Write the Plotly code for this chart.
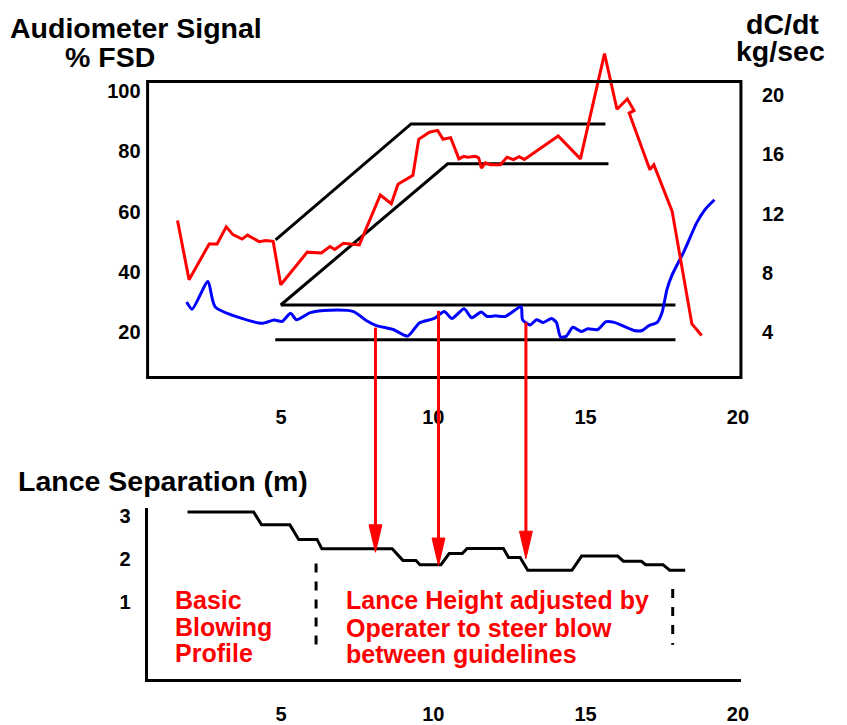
import plotly.graph_objects as go

# ---------------- data ----------------
# dC/dt (kg/sec) - red, right axis
red_t = [1.60, 1.98, 2.64, 2.90, 3.20, 3.42, 3.72, 3.90, 4.28, 4.50, 4.74, 4.99, 5.86, 6.32,
         6.61, 6.76, 7.05, 7.30, 7.57, 8.26, 8.62, 8.84, 9.33, 9.52, 9.87, 10.14, 10.32, 10.57,
         10.84, 11.00, 11.12, 11.39, 11.49, 11.58, 11.71, 11.87, 12.20, 12.42, 12.63, 12.82,
         12.99, 14.10, 14.83, 15.62, 16.03, 16.37, 16.59, 16.43, 17.11, 17.24, 17.84, 18.49, 18.81]
red_v = [11.54, 7.53, 9.95, 9.95, 11.11, 10.58, 10.28, 10.55, 10.11, 10.18, 10.13, 7.20, 9.40, 9.34,
         9.78, 9.58, 10.00, 9.95, 9.89, 13.26, 12.67, 13.99, 14.59, 17.02, 17.50, 17.62, 17.02, 17.13,
         15.70, 15.87, 15.81, 15.87, 15.76, 15.08, 15.43, 15.30, 15.30, 15.81, 15.65, 15.85,
         15.65, 17.24, 15.70, 22.80, 19.05, 19.74, 18.96, 18.79, 14.97, 15.30, 12.17, 4.55, 3.77]

# Audiometer signal (% FSD) - blue, left axis
blue_t = [1.90, 2.08, 2.60, 2.84, 4.36, 4.77, 5.04, 5.31, 5.51, 5.96, 6.61, 7.38, 7.81, 8.13,
          8.68, 9.16, 9.54, 10.03, 10.36, 10.61, 11.01, 11.26, 11.57, 11.77, 12.04, 12.36, 12.88,
          12.93, 13.18, 13.39, 13.61, 13.88, 14.04, 14.18, 14.37, 14.58, 14.86, 15.07, 15.40,
          15.67, 15.94, 16.59, 16.86, 17.08, 17.35, 17.51, 17.67, 17.84, 18.22, 18.65, 18.92, 19.23]
blue_v = [29.98, 27.61, 36.81, 28.36, 22.93, 24.03, 23.58, 26.31, 24.13, 26.50, 27.28, 26.83, 23.80, 22.18,
          20.88, 18.70, 23.06, 24.55, 26.83, 24.55, 27.80, 24.78, 26.73, 25.20, 25.43, 25.20, 28.46,
          24.13, 22.41, 24.13, 23.25, 24.55, 23.25, 18.37, 18.70, 21.63, 20.23, 21.11, 20.88,
          23.48, 23.25, 20.55, 20.55, 22.18, 23.25, 26.50, 34.11, 38.99, 46.57, 56.33, 60.65, 63.90]

# Lance separation (m)
lance_t = [1.93, 4.10, 4.36, 5.29, 5.58, 6.18, 6.34, 8.65, 9.00, 9.43, 9.56, 10.25, 10.52, 10.95,
           11.11, 12.30, 12.47, 12.85, 13.10, 14.55, 14.87, 16.05, 16.24, 16.83, 16.97, 17.54, 17.76, 18.27]
lance_v = [3.10, 3.10, 2.80, 2.80, 2.46, 2.46, 2.24, 2.24, 1.97, 1.97, 1.87, 1.87, 2.13, 2.13,
           2.25, 2.25, 2.04, 2.04, 1.74, 1.74, 2.07, 2.07, 1.95, 1.95, 1.87, 1.87, 1.74, 1.74]

# Guidelines (basic blowing profile)
guide_hi_t = [4.82, 9.27, 15.65]
guide_hi_v = [10.22, 18.06, 18.06]     # dC/dt
guide_lo_t = [4.99, 10.47, 15.75]
guide_lo_v = [5.83, 15.36, 15.36]      # dC/dt
band_hi_t = [4.99, 17.95]
band_hi_v = [29.0, 29.0]               # % FSD
band_lo_t = [4.81, 17.95]
band_lo_v = [17.5, 17.5]               # % FSD

# Arrows: time, audiometer value at start, lance value at tip
arrow_t = [8.10, 10.17, 13.04]
arrow_from = [21.5, 27.06, 23.25]
arrow_to = [2.16, 1.85, 2.01]

# Dashed separators in lower chart (time, top value in m)
dash_t = [6.15, 17.86]
dash_top = [1.90, 1.30]
dash_bot = 0.0

x_ticks = [5, 10, 15, 20]
left_ticks = [20, 40, 60, 80, 100]
right_ticks = [4, 8, 12, 16, 20]
lance_ticks = [1, 2, 3]

# ---------------- layout geometry ----------------
W, H = 847, 725
FONT = "Liberation Sans"
xr = [0.618, 20.10]
xdom = [149 / W, 748 / W]
top_dom = [1 - 383 / H, 1 - 45 / H]
y1r = [4.94, 114.86]
y2r = [0.927, 23.31]
bot_dom = [1 - 690.7 / H, 1 - 515.7 / H]
y3r = [-0.81, 3.20]


def py_top(v):
    return top_dom[0] + (v - y1r[0]) / (y1r[1] - y1r[0]) * (top_dom[1] - top_dom[0])


def py_bot(v):
    return bot_dom[0] + (v - y3r[0]) / (y3r[1] - y3r[0]) * (bot_dom[1] - bot_dom[0])


fig = go.Figure()

lw = 3
for tx, vy in [(guide_hi_t, guide_hi_v), (guide_lo_t, guide_lo_v)]:
    fig.add_trace(go.Scatter(x=tx, y=vy, mode="lines", line=dict(color="black", width=lw),
                             xaxis="x", yaxis="y2", hoverinfo="skip", showlegend=False))
for tx, vy in [(band_hi_t, band_hi_v), (band_lo_t, band_lo_v)]:
    fig.add_trace(go.Scatter(x=tx, y=vy, mode="lines", line=dict(color="black", width=lw),
                             xaxis="x", yaxis="y", hoverinfo="skip", showlegend=False))

fig.add_trace(go.Scatter(x=blue_t, y=blue_v, mode="lines",
                         line=dict(color="#0000ff", width=lw, shape="spline", smoothing=0.6),
                         xaxis="x", yaxis="y", showlegend=False))
fig.add_trace(go.Scatter(x=red_t, y=red_v, mode="lines", line=dict(color="#ff0000", width=lw),
                         xaxis="x", yaxis="y2", showlegend=False))
fig.add_trace(go.Scatter(x=lance_t, y=lance_v, mode="lines", line=dict(color="black", width=lw),
                         xaxis="x2", yaxis="y3", showlegend=False))

shapes = []
# frame of the upper chart
shapes.append(dict(type="rect", xref="paper", yref="paper", x0=xdom[0], x1=xdom[1],
                   y0=top_dom[0], y1=1 - 81 / H, line=dict(color="black", width=3),
                   layer="above"))
# arrows
hw = 6.5 / ((xdom[1] - xdom[0]) * W / (xr[1] - xr[0]))
head = 28 / H
for t, a, b in zip(arrow_t, arrow_from, arrow_to):
    y0 = py_top(a)
    y1 = py_bot(b)
    shapes.append(dict(type="line", xref="x", yref="paper", x0=t, x1=t, y0=y0, y1=y1 + head * 0.8,
                       line=dict(color="#ff0000", width=3), layer="above"))
    shapes.append(dict(type="path", xref="x", yref="paper",
                       path=f"M {t - hw},{y1 + head} L {t + hw},{y1 + head} L {t},{y1} Z",
                       fillcolor="#ff0000", line=dict(color="#ff0000", width=1), layer="above"))
for t, top in zip(dash_t, dash_top):
    shapes.append(dict(type="line", xref="x2", yref="y3", x0=t, x1=t, y0=top, y1=dash_bot,
                       line=dict(color="black", width=3, dash="dash")))

ann = []


def text(s, x, y, size, color="black", xanchor="center"):
    ann.append(dict(text=s, x=x / W, y=1 - y / H, xref="paper", yref="paper", showarrow=False,
                    xanchor=xanchor, yanchor="middle", borderpad=0,
                    font=dict(family=FONT, size=size, color=color, weight="bold")))


text("Audiometer Signal", 137, 27, 28.5)
text("% FSD", 111, 56, 28.5)
text("dC/dt", 790, 22, 28.5)
text("kg/sec", 788, 50, 28.5)
text("Lance Separation (m)", 17, 488, 28.5, xanchor="left")
text("Basic", 176, 610, 25, "#ff0000", "left")
text("Blowing", 176, 637, 25, "#ff0000", "left")
text("Profile", 176, 664, 25, "#ff0000", "left")
text("Lance Height adjusted by", 348, 610, 25, "#ff0000", "left")
text("Operater to steer blow", 348, 638, 25, "#ff0000", "left")
text("between guidelines", 348, 665, 25, "#ff0000", "left")

tickfont = dict(family=FONT, size=20, color="black", weight="bold")
fig.update_layout(
    width=W, height=H, margin=dict(l=0, r=0, t=0, b=0),
    paper_bgcolor="white", plot_bgcolor="rgba(0,0,0,0)",
    showlegend=False,
    xaxis=dict(domain=xdom, range=xr, anchor="y", tickvals=x_ticks, ticks="", showline=False,
               showgrid=False, zeroline=False, tickfont=tickfont, ticklabelstandoff=25),
    yaxis=dict(domain=top_dom, range=y1r, anchor="x", tickvals=left_ticks, ticks="", showgrid=False,
               zeroline=False, showline=False, tickfont=tickfont, ticklabelstandoff=6),
    yaxis2=dict(range=y2r, overlaying="y", side="right", anchor="x", tickvals=right_ticks, ticks="",
                showgrid=False, zeroline=False, showline=False, tickfont=tickfont,
                ticklabelstandoff=20),
    xaxis2=dict(domain=xdom, range=xr, anchor="y3", tickvals=x_ticks, ticks="", showline=True,
                linecolor="black", linewidth=3, showgrid=False, zeroline=False, tickfont=tickfont,
                ticklabelstandoff=15),
    yaxis3=dict(domain=bot_dom, range=y3r, anchor="x2", tickvals=lance_ticks, ticks="", showline=True,
                linecolor="black", linewidth=3, showgrid=False, zeroline=False, tickfont=tickfont,
                ticklabelstandoff=10),
    shapes=shapes, annotations=ann,
)

fig.write_html("out.html", config={"displayModeBar": False},
               post_script="document.body.style.margin='0';document.body.style.overflow='hidden';")
